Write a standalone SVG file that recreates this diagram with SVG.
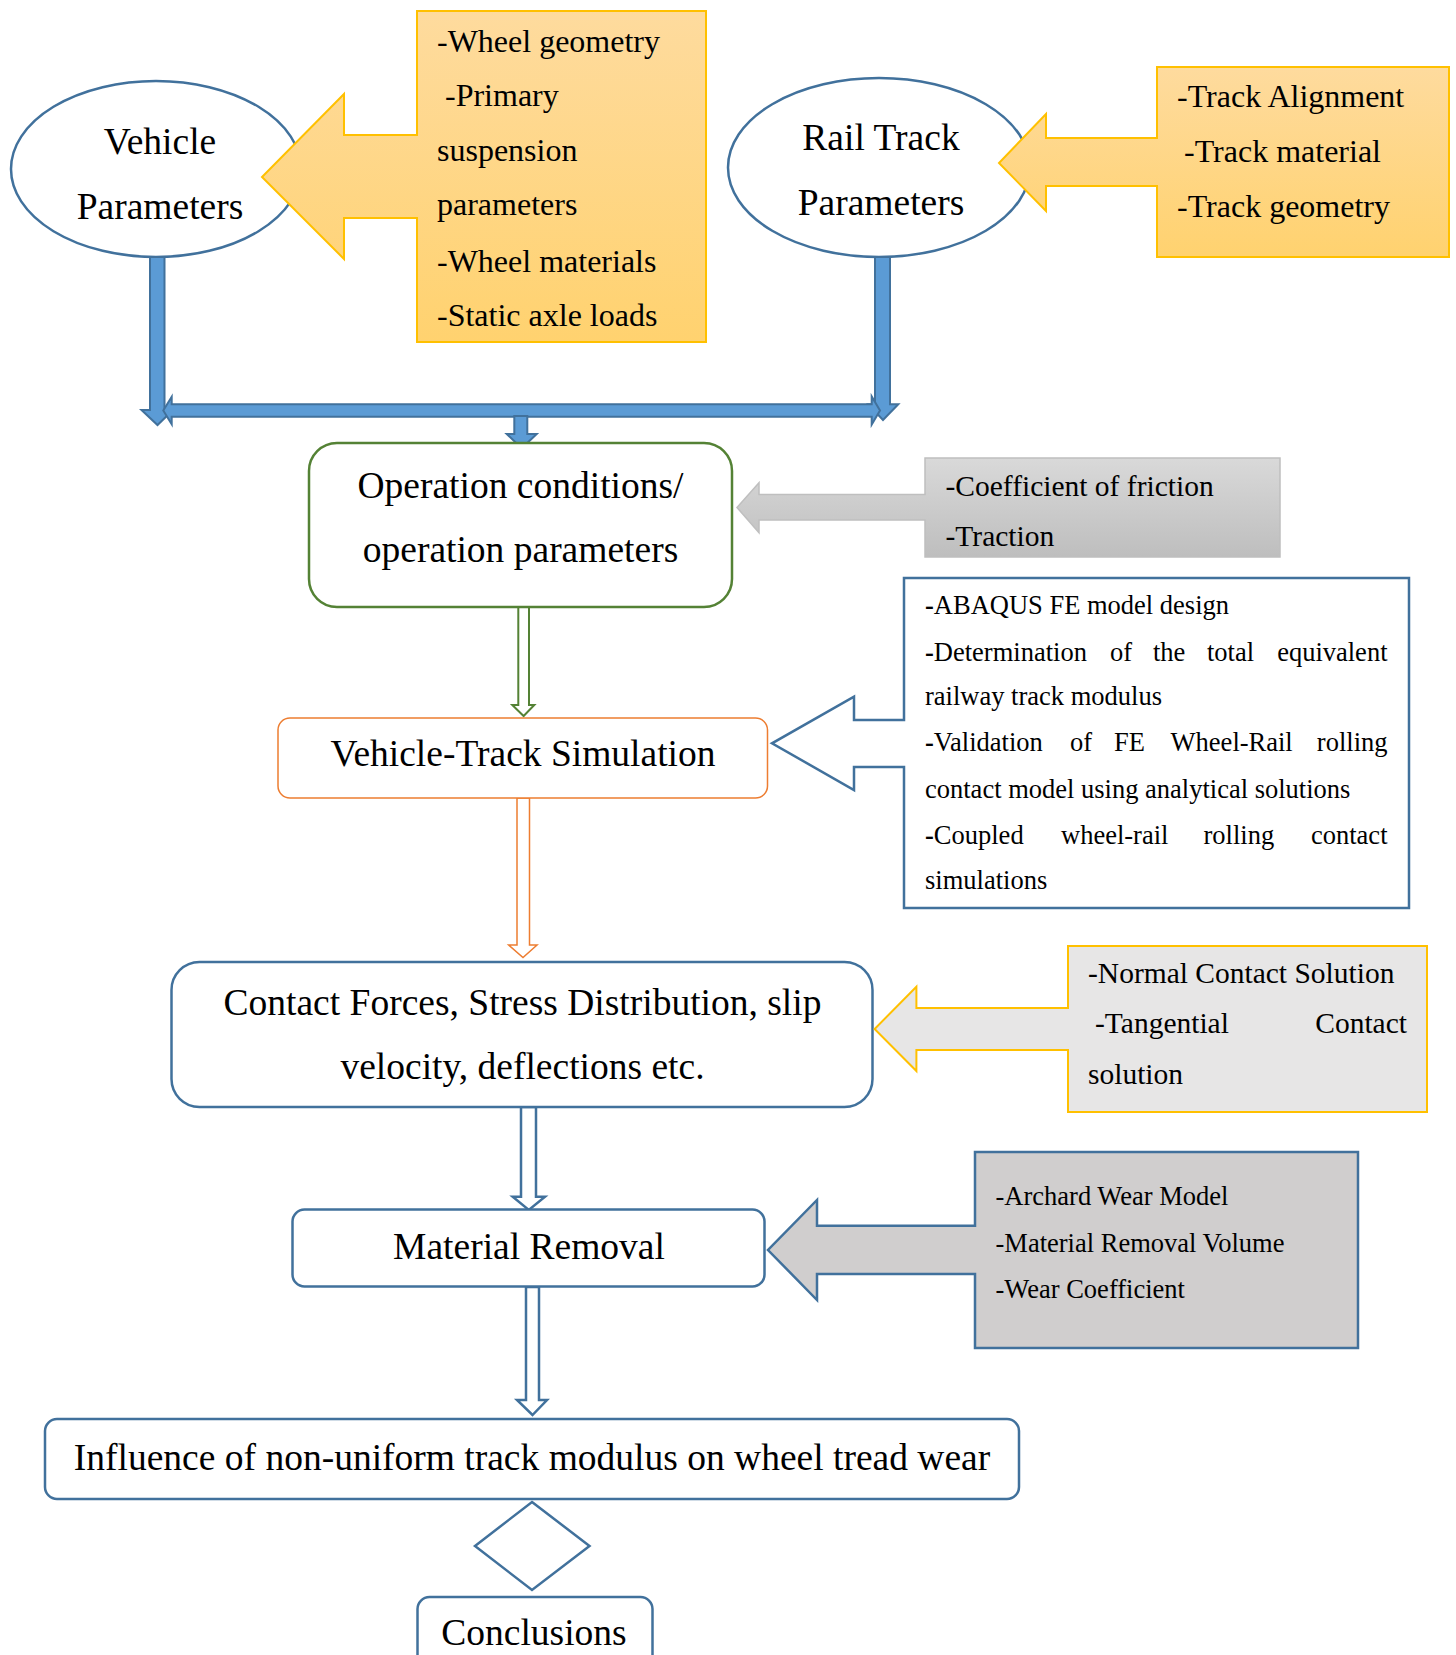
<svg xmlns="http://www.w3.org/2000/svg" width="1456" height="1655" viewBox="0 0 1456 1655">
<defs>
<linearGradient id="gold" x1="0" y1="0" x2="0" y2="1">
<stop offset="0" stop-color="#FEDB9E"/>
<stop offset="1" stop-color="#FFD26F"/>
</linearGradient>
<linearGradient id="grey" x1="0" y1="0" x2="0" y2="1">
<stop offset="0" stop-color="#D9D9D9"/>
<stop offset="1" stop-color="#BEBEBE"/>
</linearGradient>
<style>
text{font-family:"Liberation Serif","Times New Roman",serif;fill:#000}
.m{font-size:37.5px;text-anchor:middle}
.s32{font-size:32px}
.s29{font-size:29.5px}
.s26{font-size:26.5px}
.blue{fill:#fff;stroke:#41719C;stroke-width:2.5}
.thick{fill:#5B9BD5;stroke:#41719C;stroke-width:2}
.goldc{fill:url(#gold);stroke:#FFC000;stroke-width:2}
.e{text-anchor:end}
.b{font-weight:bold}
</style>
</defs>
<rect width="1456" height="1655" fill="#fff"/>

<g id="vehicle">
<ellipse class="blue" cx="156" cy="169" rx="145" ry="88"/>
<text class="m" x="160" y="153.5">Vehicle</text>
<text class="m" x="160" y="218.5">Parameters</text>
</g>

<g id="vehicle-inputs">
<path class="goldc" d="M417,11 H706 V342 H417 V218 H344 V259 L262,177 L344,94 V135 H417 Z"/>
<text class="s32" x="437" y="51.7">-Wheel geometry</text>
<text class="s32" x="445" y="106">-Primary</text>
<text class="s32" x="437" y="161">suspension</text>
<text class="s32" x="437" y="215">parameters</text>
<text class="s32" x="437" y="272">-Wheel materials</text>
<text class="s32" x="437" y="326">-Static axle loads</text>
</g>

<g id="railtrack">
<ellipse class="blue" cx="879" cy="167.5" rx="151" ry="89.5"/>
<text class="m" x="881" y="149.5">Rail Track</text>
<text class="m" x="881" y="214.5">Parameters</text>
</g>

<g id="track-inputs">
<path class="goldc" d="M1157,67 H1449 V257 H1157 V186 H1046 V211 L999,163 L1046,114 V138 H1157 Z"/>
<text class="s32" x="1177" y="107">-Track Alignment</text>
<text class="s32" x="1184" y="162">-Track material</text>
<text class="s32" x="1177" y="217">-Track geometry</text>
</g>

<g id="connectors">
<path class="thick" d="M150,257 H164.5 V410 H173 L157.5,425 L141.5,410 H150 Z"/>
<path class="thick" d="M875,257 H890 V404.3 H898.3 L883,420 L868.3,404.3 H875 Z"/>
<path class="thick" d="M163.3,410.5 L171.7,396.7 V404.3 H871.7 V396.5 L880,410.5 L871.7,424.5 V416.7 H171.7 V424.3 Z"/>
<path class="thick" d="M514.3,416 H527.3 V434 H536.7 L521.7,448.3 L506.7,434 H514.3 Z"/>
<path d="M518.3,607 H529 V705 H534.3 L523.6,716 L512.3,705 H518.3 Z" fill="#fff" stroke="#548235" stroke-width="2"/>
<path d="M517,798 H529.5 V945 H537 L523,957.5 L508.7,945 H517 Z" fill="#fff" stroke="#ED7D31" stroke-width="1.5"/>
<path class="blue" d="M521,1107 H536 V1196.7 H545 L528.8,1210 L512.7,1196.7 H521 Z"/>
<path class="blue" d="M526,1287 H539 V1400 H547 L532.5,1415 L517,1400 H526 Z"/>
</g>

<g id="operation">
<rect x="309" y="443" width="423" height="164" rx="28" fill="#fff" stroke="#548235" stroke-width="2.5"/>
<text class="m" x="520.5" y="498">Operation conditions/</text>
<text class="m" x="520.5" y="562">operation parameters</text>
</g>

<g id="operation-inputs">
<path d="M925,458 H1280 V557 H925 V520 H759 V532.7 L737,507.5 L759,482.7 V494.5 H925 Z" fill="url(#grey)" stroke="#BFBFBF" stroke-width="1.5"/>
<text class="s29" x="945.5" y="496">-Coefficient of friction</text>
<text class="s29" x="945.5" y="546">-Traction</text>
</g>

<g id="simulation">
<rect x="278" y="718" width="489.5" height="80" rx="12" fill="#fff" stroke="#ED7D31" stroke-width="1.5"/>
<text class="m" x="523" y="766">Vehicle-Track Simulation</text>
</g>

<g id="simulation-inputs">
<path class="blue" d="M904,578 H1409 V908 H904 V767 H854 V790 L772,743.3 L854,696.7 V720 H904 Z"/>
<text class="s26" x="925" y="614"><tspan class="b">-</tspan>ABAQUS FE model design</text>
<text class="s26" y="661"><tspan x="925"><tspan class="b">-</tspan>Determination</tspan><tspan x="1110">of</tspan><tspan x="1153">the</tspan><tspan x="1207">total</tspan></text>
<text class="s26 e" x="1387.5" y="661">equivalent</text>
<text class="s26" x="925" y="704.5">railway track modulus</text>
<text class="s26" y="751"><tspan x="925"><tspan class="b">-</tspan>Validation</tspan><tspan x="1070">of</tspan><tspan x="1114">FE</tspan><tspan x="1170.6">Wheel-Rail</tspan></text>
<text class="s26 e" x="1387.5" y="751">rolling</text>
<text class="s26" x="925" y="797.5">contact model using analytical solutions</text>
<text class="s26" y="844"><tspan x="925"><tspan class="b">-</tspan>Coupled</tspan><tspan x="1061">wheel-rail</tspan><tspan x="1203.5">rolling</tspan></text>
<text class="s26 e" x="1387.5" y="844">contact</text>
<text class="s26" x="925" y="889">simulations</text>
</g>

<g id="contact">
<rect class="blue" x="171.5" y="962" width="701" height="145" rx="28"/>
<text class="m" x="522.5" y="1015">Contact Forces, Stress Distribution, slip</text>
<text class="m" x="522.5" y="1079">velocity, deflections etc.</text>
</g>

<g id="contact-inputs">
<path d="M1068,946 H1427 V1112 H1068 V1050 H916.4 V1071 L874.6,1029 L916.4,986.7 V1008 H1068 Z" fill="#E7E6E6" stroke="#FFC000" stroke-width="2"/>
<text class="s29" x="1088" y="982.5">-Normal Contact Solution</text>
<text class="s29" x="1095" y="1032.5">-Tangential</text>
<text class="s29 e" x="1407" y="1032.5">Contact</text>
<text class="s29" x="1088" y="1084">solution</text>
</g>

<g id="material">
<rect class="blue" x="292.5" y="1209.5" width="472" height="77" rx="12"/>
<text class="m" x="529" y="1258.5">Material Removal</text>
</g>

<g id="material-inputs">
<path d="M975,1152 H1358 V1348 H975 V1274 H817 V1300 L768,1250 L817,1200 V1225.7 H975 Z" fill="#D0CECE" stroke="#41719C" stroke-width="2.5"/>
<text class="s26" x="995.5" y="1204.5">-Archard Wear Model</text>
<text class="s26" x="995.5" y="1251.5">-Material Removal Volume</text>
<text class="s26" x="995.5" y="1298">-Wear Coefficient</text>
</g>

<g id="influence">
<rect class="blue" x="45" y="1419" width="974" height="80" rx="12"/>
<text class="m" x="532" y="1470">Influence of non-uniform track modulus on wheel tread wear</text>
</g>

<g id="decision">
<polygon class="blue" points="532,1502 589.5,1546 532,1590 475,1546"/>
</g>

<g id="conclusions">
<rect class="blue" x="417.5" y="1597" width="235" height="90" rx="12"/>
<text class="m" x="534" y="1645">Conclusions</text>
</g>
</svg>
